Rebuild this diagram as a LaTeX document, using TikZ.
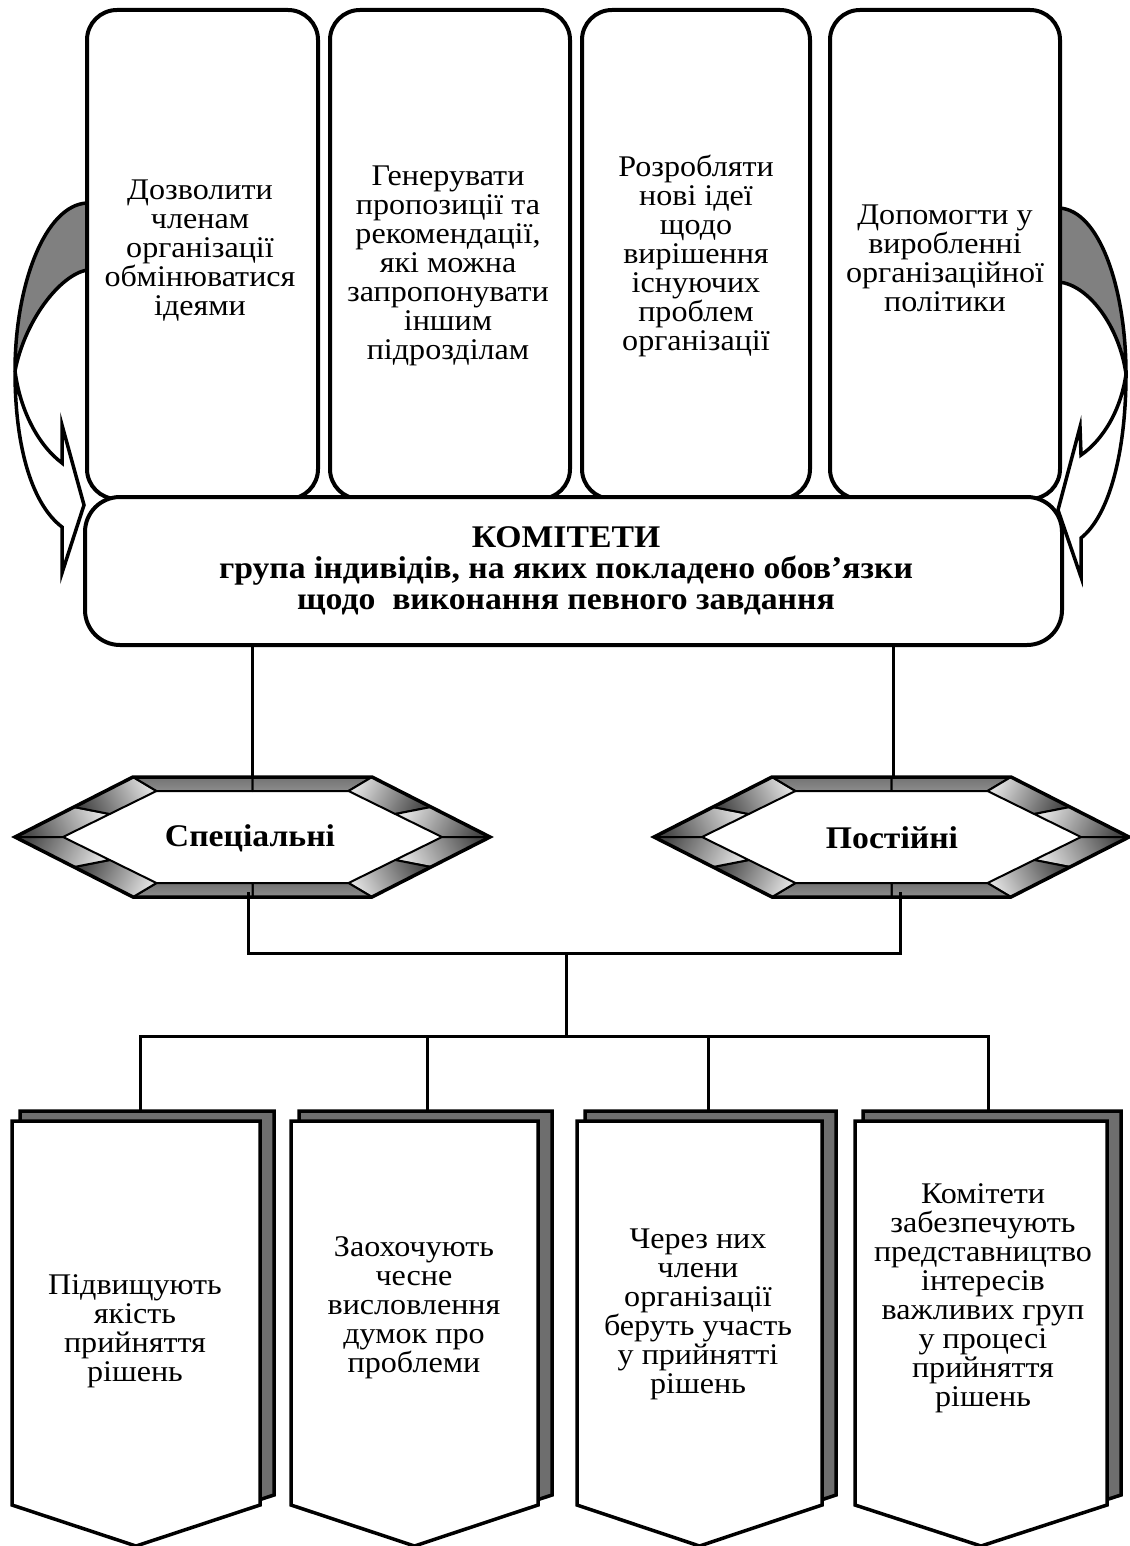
\documentclass[tikz,border=0pt]{standalone}
\usepackage{fontspec}
\setmainfont{Liberation Serif}[FakeStretch=1.07]
\begin{document}
\begin{tikzpicture}[x=1pt,y=-1pt,
  box/.style={draw, line width=4pt, rounded corners=30pt, fill=white, inner sep=0pt},
  txt/.style={align=center, inner sep=0pt, font=\fontsize{30}{29}\selectfont},
  btxt/.style={align=center, inner sep=0pt, font=\bfseries\fontsize{31.5}{31}\selectfont},
  wire/.style={line width=3pt},
  edge/.style={line width=3.5pt, line join=miter},
  crescent/.style={line width=3.5pt, fill=black!50, line join=round},
  body/.style={line width=3.5pt, fill=white, line join=miter}]
\useasboundingbox (0,0) rectangle (1129,1546);

% one shaded piece of a bevelled hexagon frame
\newcommand\bseg[5]{%
  \shade[top color=black!72, bottom color=black!12, shading angle=#5]
    #1 -- #2 -- #3 -- #4 -- cycle;
  \draw[line width=2pt, line join=round] #1 -- #2 -- #3 -- #4 -- cycle;}
% flat piece of the frame: dark rim, light middle
\newcommand\fseg[4]{%
  \shade[top color=black!55, middle color=black!8, bottom color=black!45]
    #1 -- #2 -- #3 -- #4 -- cycle;
  \draw[line width=2pt, line join=round] #1 -- #2 -- #3 -- #4 -- cycle;}
% bevelled hexagon frame centred at (#1,#2)
\newcommand\hexframe[2]{%
  \begin{scope}[shift={(#1,#2)}]
    \bseg{(-237.5,0)}{(-178.5,-30)}{(-142.75,-23)}{(-189.5,0)}{117}
    \bseg{(-178.5,-30)}{(-119.5,-60)}{(-96,-46)}{(-142.75,-23)}{117}
    \fseg{(-119.5,-60)}{(0,-60)}{(0,-46)}{(-96,-46)}
    \fseg{(0,-60)}{(119.5,-60)}{(96,-46)}{(0,-46)}
    \bseg{(119.5,-60)}{(178.5,-30)}{(142.75,-23)}{(96,-46)}{243}
    \bseg{(178.5,-30)}{(237.5,0)}{(189.5,0)}{(142.75,-23)}{243}
    \bseg{(237.5,0)}{(178.5,30)}{(142.75,23)}{(189.5,0)}{-63}
    \bseg{(178.5,30)}{(119.5,60)}{(96,46)}{(142.75,23)}{-63}
    \fseg{(119.5,60)}{(0,60)}{(0,46)}{(96,46)}
    \fseg{(0,60)}{(-119.5,60)}{(-96,46)}{(0,46)}
    \bseg{(-119.5,60)}{(-178.5,30)}{(-142.75,23)}{(-96,46)}{63}
    \bseg{(-178.5,30)}{(-237.5,0)}{(-189.5,0)}{(-142.75,23)}{63}
    \draw[edge] (-237.5,0) -- (-119.5,-60) -- (119.5,-60) -- (237.5,0)
      -- (119.5,60) -- (-119.5,60) -- cycle;
  \end{scope}}
% banner with a dark backing sheet; #3 names the hook point on its top
\newcommand\banner[4]{%
  \pgfmathsetmacro\bmid{(#1+#2)/2}
  \draw[line width=3.5pt, fill=black!57, line join=miter]
    (#1+8,1111) -- (#2+14,1111) -- (#2+14,1495) -- (\bmid+13,1536)
    -- (#1+8,1495) -- cycle;
  \draw[line width=3.5pt, fill=white, line join=miter]
    (#1,1121) -- (#2,1121) -- (#2,1505) -- (\bmid,1546) -- (#1,1505) -- cycle;
  \coordinate (#3) at (#4,1111);}

% curved return arrows on both sides
\draw[crescent] (87,203) .. controls (45,205) and (15,285) .. (15,371)
  .. controls (25,320) and (60,275) .. (87,270) -- cycle;
\draw[body] (15,371) .. controls (15,450) and (33,505) .. (62,527)
  -- (62,573) -- (84,505) -- (62,425) -- (62,463)
  .. controls (38,445) and (20,410) .. (15,371) -- cycle;
\draw[crescent] (1059,208) .. controls (1100,210) and (1126,290) .. (1126,374)
  .. controls (1119,325) and (1088,285) .. (1059,282) -- cycle;
\draw[body] (1126,374) .. controls (1126,450) and (1110,515) .. (1081,538)
  -- (1081,577) -- (1058,510) -- (1080,427) -- (1081,455)
  .. controls (1103,440) and (1121,410) .. (1126,374) -- cycle;

% goals of the committees
\node[box, minimum width=231pt, minimum height=489pt] (g1) at (202.5,254.5) {};
\node[box, minimum width=240pt, minimum height=489pt] (g2) at (450,254.5) {};
\node[box, minimum width=228pt, minimum height=489pt] (g3) at (696,254.5) {};
\node[box, minimum width=230pt, minimum height=489pt] (g4) at (945,254.5) {};
\node[txt] (g1t) at (200,251) {Дозволити\\членам\\організації\\обмінюватися\\ідеями};
\node[txt] (g2t) at (448,266) {Генерувати\\пропозиції та\\рекомендації,\\які можна\\запропонувати\\іншим\\підрозділам};
\node[txt] (g3t) at (696,256) {Розробляти\\нові ідеї\\щодо\\вирішення\\існуючих\\проблем\\організації};
\node[txt] (g4t) at (945,258) {Допомогти у\\виробленні\\організаційної\\політики};

% committees
\node[box, rounded corners=35pt, minimum width=977pt, minimum height=148pt] (kom) at (573.5,571) {};
\node[btxt] (komt) at (566,571) {КОМІТЕТИ\\група індивідів, на яких покладено обов’язки\\щодо\ \ виконання певного завдання};

% kinds of committees
\hexframe{252.5}{837}
\hexframe{891.5}{837}
\node[btxt] (spec) at (250,838) {Спеціальні};
\node[btxt] (post) at (892,838) {Постійні};
\coordinate (hLtop) at (252,777);
\coordinate (hRtop) at (893,777);
\coordinate (hLbot) at (248,892);
\coordinate (hRbot) at (900,892);
\draw[wire] (kom.south -| hLtop) -- (hLtop);
\draw[wire] (kom.south -| hRtop) -- (hRtop);

% benefits
\banner{12}{260}{b1}{140}
\banner{291}{538}{b2}{427}
\banner{577}{822}{b3}{708}
\banner{855}{1107}{b4}{988}
\node[txt] (b1t) at (135,1331) {Підвищують\\якість\\прийняття\\рішень};
\node[txt] (b2t) at (414,1308) {Заохочують\\чесне\\висловлення\\думок про\\проблеми};
\node[txt] (b3t) at (698,1314) {Через них\\члени\\організації\\беруть участь\\у прийнятті\\рішень};
\node[txt] (b4t) at (983,1298) {Комітети\\забезпечують\\представництво\\інтересів\\важливих груп\\у процесі\\прийняття\\рішень};

% tree of connectors
\coordinate (j1) at (566,953);
\coordinate (bus) at (566,1036);
\draw[wire] (hLbot) |- (j1) -| (hRbot);
\draw[wire] (j1) -- (bus);
\draw[wire] (b1) |- (bus) -| (b4);
\draw[wire] (b2 |- bus) -- (b2);
\draw[wire] (b3 |- bus) -- (b3);
\end{tikzpicture}
\end{document}
